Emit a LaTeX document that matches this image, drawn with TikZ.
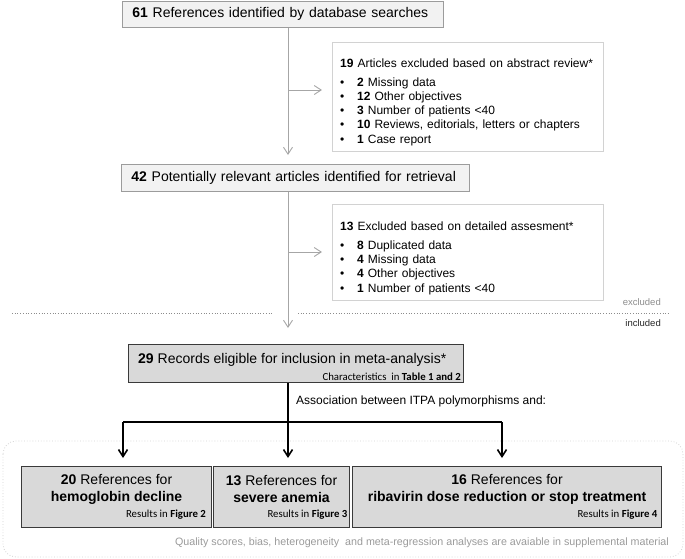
\documentclass[tikz,border=0pt]{standalone}
\usepackage{fontspec}
\setmainfont{Liberation Sans}
\newfontfamily\calfont{Carlito}
\usetikzlibrary{arrows.meta}

\definecolor{linegray}{HTML}{A6A6A6}
\definecolor{boxgray}{HTML}{9C9C9C}
\definecolor{exgray}{HTML}{D2D2D2}
\definecolor{lightfill}{HTML}{F2F2F2}
\definecolor{darkfill}{HTML}{D9D9D9}
\definecolor{darkline}{HTML}{3A3A3A}
\definecolor{sepgray}{HTML}{8C8C8C}
\definecolor{notegray}{HTML}{9A9A9A}

\begin{document}
\begin{tikzpicture}[x=1pt,y=-1pt,
	>={Straight Barb[length=7pt,width=9pt]},
	graybox/.style={draw=boxgray,fill=lightfill,line width=0.9pt,anchor=north west,
		inner xsep=10pt,inner ysep=0pt,align=left,font=\fontsize{14}{17}\selectfont},
	exbox/.style={draw=exgray,fill=white,line width=0.9pt,anchor=north west},
	darkbox/.style={draw=darkline,fill=darkfill,line width=1.1pt,anchor=north west},
	listtext/.style={anchor=base west,inner sep=0pt,text width=262pt,align=left,
		font=\fontsize{12}{14.3}\selectfont},
	title/.style={inner sep=0pt,align=center,font=\fontsize{14}{17}\selectfont},
	note/.style={anchor=base east,inner sep=0pt,font=\calfont\fontsize{10.8}{13}\selectfont},
	grayline/.style={draw=linegray,line width=0.9pt},
	blackline/.style={draw=black,line width=1.6pt},
	sepline/.style={draw=sepgray,line width=0.7pt,dotted}]

\def\bul{\makebox[17pt][l]{\textbullet}}

\useasboundingbox (0,0) rectangle (685,558);

% frame round the three outcomes
\draw[draw=exgray,line width=0.8pt,dotted,rounded corners=13pt] (3,441) rectangle (683,557);

% screening
\node[graybox,minimum width=321,minimum height=26.5,text width=301] (refs) at (122,0.5)
	{\textbf{61} References identified by database searches};
\node[graybox,minimum width=348,minimum height=27,text width=328] (retr) at (121,164)
	{\textbf{42} Potentially relevant articles identified for retrieval};

\node[exbox,minimum width=271,minimum height=109] (ex1) at (332,42) {};
\node[listtext] (ex1txt) at ([xshift=8pt,yshift=-25pt]ex1.north west) {%
	\textbf{19} Articles excluded based on abstract review*\\[4.7pt]
	\bul\textbf{2} Missing data\\
	\bul\textbf{12} Other objectives\\
	\bul\textbf{3} Number of patients <40\\
	\bul\textbf{10} Reviews, editorials, letters or chapters\\
	\bul\textbf{1} Case report};

\node[exbox,minimum width=271,minimum height=96] (ex2) at (332,204) {};
\node[listtext] (ex2txt) at ([xshift=8pt,yshift=-26pt]ex2.north west) {%
	\textbf{13} Excluded based on detailed assesment*\\[5pt]
	\bul\textbf{8} Duplicated data\\
	\bul\textbf{4} Missing data\\
	\bul\textbf{4} Other objectives\\
	\bul\textbf{1} Number of patients <40};

\coordinate (trunk) at (288,0);
\coordinate (br1) at (288,90);
\coordinate (br2) at (288,252);

\draw[grayline,->,shorten >=9pt] (refs.south -| trunk) -- (retr.north -| trunk);
\draw[grayline,->,shorten >=10pt] (br1) -- (br1 -| ex1.west);
\draw[grayline,->,shorten >=10pt] (br2) -- (br2 -| ex2.west);

% excluded / included
\draw[sepline] (12,313) -- (272,313);
\draw[sepline] (298,313) -- (668,313);
\node[anchor=base east,inner sep=0pt,text=sepgray,font=\fontsize{9.5}{11}\selectfont] (exlab) at (661,305.7) {excluded};
\node[anchor=base east,inner sep=0pt,text=black!85,font=\fontsize{9.5}{11}\selectfont] (inlab) at (661,326.7) {included};

% eligible records
\node[darkbox,minimum width=335,minimum height=38] (elig) at (128,344) {};
\node[anchor=base west,inner sep=0pt,font=\fontsize{14}{17}\selectfont] (eligtxt)
	at ([xshift=10pt,yshift=-19.3pt]elig.north west)
	{\textbf{29} Records eligible for inclusion in meta-analysis*};
\node[note] (elignote) at ([xshift=-3pt,yshift=2.7pt]elig.south east)
	{Characteristics\ \ in \textbf{Table 1 and 2}};

\draw[grayline,->,shorten >=16pt] (retr.south -| trunk) -- (elig.north -| trunk);

% outcomes
\node[darkbox,minimum width=190,minimum height=61] (hb) at (21,466) {};
\node[darkbox,minimum width=136,minimum height=61] (sa) at (213,466) {};
\node[darkbox,minimum width=309,minimum height=61] (rd) at (352,466) {};

\node[title] (hbtxt) at ([yshift=8pt]hb.center) {\textbf{20} References for\\\textbf{hemoglobin decline}};
\node[title] (satxt) at ([yshift=8pt]sa.center) {\textbf{13} References for\\\textbf{severe anemia}};
\node[title] (rdtxt) at ([yshift=8pt]rd.center) {\textbf{16} References for\\\textbf{ribavirin dose reduction or stop treatment}};

\node[note] (hbnote) at ([xshift=-6pt,yshift=11pt]hb.south east) {Results in \textbf{Figure 2}};
\node[note] (sanote) at ([xshift=-2.5pt,yshift=11pt]sa.south east) {Results in \textbf{Figure 3}};
\node[note] (rdnote) at ([xshift=-4.5pt,yshift=11pt]rd.south east) {Results in \textbf{Figure 4}};

\node[anchor=base west,inner sep=0pt,font=\fontsize{12}{14}\selectfont] (assoc) at (296,404)
	{Association between ITPA polymorphisms and:};

\coordinate (fork) at (288,422);
\coordinate (fl) at (123,422);
\coordinate (fr) at (502,422);

\draw[blackline] (elig.south -| trunk) -- (fork);
\draw[blackline] (fl) -- (fr);
\draw[blackline,->,shorten >=8pt] (fl) -- (fl |- hb.north);
\draw[blackline,->,shorten >=8pt] (fork) -- (fork |- sa.north);
\draw[blackline,->,shorten >=8pt] (fr) -- (fr |- rd.north);

\node[anchor=base east,inner sep=0pt,text=notegray,font=\fontsize{10.7}{12}\selectfont] (quality) at (669,545)
	{Quality scores, bias, heterogeneity\ \ and meta-regression analyses are avaiable in supplemental material};

\end{tikzpicture}
\end{document}
